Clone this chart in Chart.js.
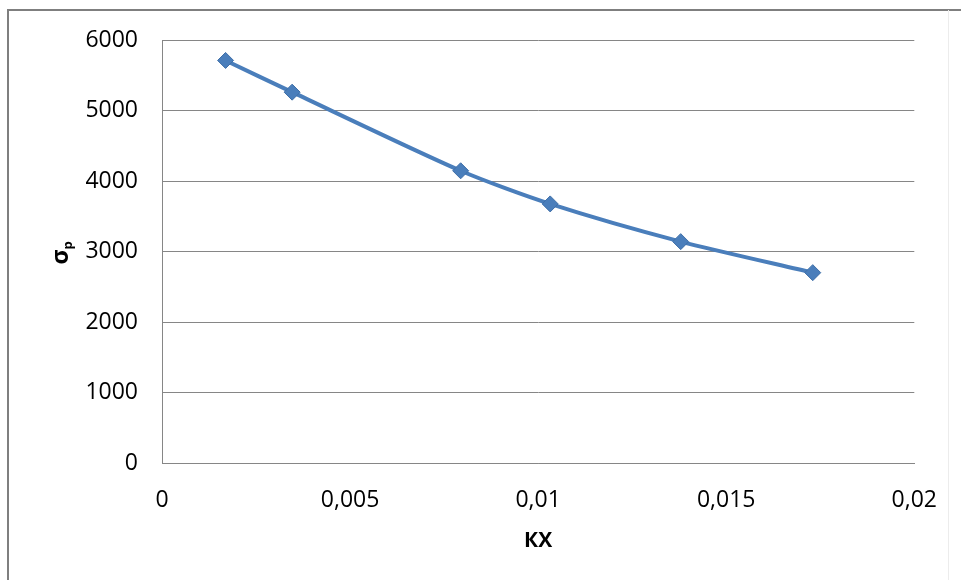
<!DOCTYPE html>
<html>
<head>
<meta charset="utf-8">
<script src="https://cdn.jsdelivr.net/npm/chart.js@4/dist/chart.umd.min.js"></script>
<style>
  html, body { margin: 0; padding: 0; background: #ffffff; }
  #wrap { position: relative; width: 961px; height: 580px; }
</style>
</head>
<body>
<div id="wrap"><canvas id="c"></canvas></div>
<script>
// Measured points: KX against sigma_p
const kx = [0.00169, 0.00346, 0.00794, 0.01032, 0.01379, 0.01730];
const sigmaP = [5710, 5260, 4145, 3675, 3140, 2700];

// Axis ticks (decimal comma labels)
const xTickValues = [0, 0.005, 0.01, 0.015, 0.02];
const xTickLabels = ['0', '0,005', '0,01', '0,015', '0,02'];
const yTickValues = [0, 1000, 2000, 3000, 4000, 5000, 6000];
const yTickLabels = ['0', '1000', '2000', '3000', '4000', '5000', '6000'];

const xTitle = 'КХ';
const yTitleMain = 'σ';
const yTitleSub = 'p';

const LINE_COLOR = '#4a7ebb';
const GRID_COLOR = '#868686';
const FONT = "'Open Sans', 'DejaVu Sans', sans-serif";

// Frame of the chart area and the rotated, subscripted y-axis title
const decorations = {
  id: 'decorations',
  beforeDraw(chart) {
    const ctx = chart.ctx;
    ctx.save();
    ctx.fillStyle = '#ffffff';
    ctx.fillRect(0, 0, chart.width, chart.height);
    ctx.strokeStyle = '#7f7f7f';
    ctx.lineWidth = 2;
    ctx.beginPath();
    ctx.moveTo(8, chart.height);
    ctx.lineTo(8, 10);
    ctx.lineTo(chart.width, 10);
    ctx.stroke();
    ctx.strokeStyle = '#ececec';
    ctx.lineWidth = 1;
    ctx.beginPath();
    ctx.moveTo(948.5, 10);
    ctx.lineTo(948.5, chart.height);
    ctx.stroke();
    ctx.restore();
  },
  afterDraw(chart) {
    const ctx = chart.ctx;
    ctx.save();
    ctx.translate(62, 253);
    ctx.rotate(-Math.PI / 2);
    ctx.fillStyle = '#000000';
    ctx.textBaseline = 'alphabetic';
    ctx.font = "bold 23px " + FONT;
    const w = ctx.measureText(yTitleMain).width;
    ctx.font = "bold 13px " + FONT;
    const ws = ctx.measureText(yTitleSub).width;
    const start = -(w + ws) / 2;
    ctx.font = "bold 23px " + FONT;
    ctx.fillText(yTitleMain, start, 6);
    ctx.font = "bold 13px " + FONT;
    ctx.fillText(yTitleSub, start + w, 10);
    ctx.restore();
  }
};

new Chart(document.getElementById('c'), {
  type: 'line',
  data: {
    datasets: [{
      data: kx.map((x, i) => ({ x: x, y: sigmaP[i] })),
      borderColor: LINE_COLOR,
      backgroundColor: LINE_COLOR,
      borderWidth: 4,
      tension: 0.25,
      pointStyle: 'rectRot',
      pointRadius: 8,
      pointHoverRadius: 8,
      pointBackgroundColor: LINE_COLOR,
      pointBorderColor: '#3f6fa8',
      pointBorderWidth: 1,
      fill: false
    }]
  },
  options: {
    responsive: true,
    maintainAspectRatio: false,
    animation: false,
    events: [],
    layout: { padding: { top: 40, right: 41, left: 0, bottom: 0 } },
    plugins: { legend: { display: false }, tooltip: { enabled: false } },
    scales: {
      x: {
        type: 'linear',
        min: 0,
        max: 0.02,
        afterFit(scale) { scale.height = 117; },
        afterBuildTicks(scale) { scale.ticks = xTickValues.map(v => ({ value: v })); },
        grid: { display: false, drawTicks: false },
        border: { display: true, color: GRID_COLOR, width: 1 },
        ticks: {
          padding: 24,
          color: '#000000',
          font: { family: FONT, size: 23 },
          maxRotation: 0,
          callback: (v, i) => xTickLabels[i]
        },
        title: {
          display: true,
          text: xTitle,
          color: '#000000',
          font: { family: FONT, size: 21, weight: 'bold' },
          padding: { top: 0, bottom: 26 }
        }
      },
      y: {
        type: 'linear',
        min: 0,
        max: 6000,
        afterFit(scale) { scale.width = 162; },
        afterBuildTicks(scale) { scale.ticks = yTickValues.map(v => ({ value: v })); },
        grid: { color: GRID_COLOR, lineWidth: 1, drawTicks: false },
        border: { display: true, color: GRID_COLOR, width: 1 },
        ticks: {
          padding: 24,
          color: '#000000',
          font: { family: FONT, size: 23 },
          callback: (v, i) => yTickLabels[i]
        }
      }
    }
  },
  plugins: [decorations]
});
</script>
</body>
</html>
